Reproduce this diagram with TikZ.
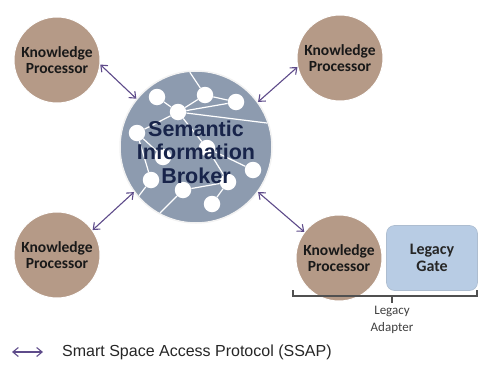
\documentclass[tikz,border=0pt]{standalone}
\usepackage{fontspec}
\newfontfamily\carl{Carlito}
\newfontfamily\arial{Liberation Sans}
\usetikzlibrary{arrows.meta}
\definecolor{kpfill}{HTML}{B59A87}
\definecolor{sibfill}{HTML}{8D9BAF}
\definecolor{sibtext}{HTML}{18244A}
\definecolor{gatefill}{HTML}{B8CCE4}
\definecolor{arrowc}{HTML}{5E4B8A}
\definecolor{bracketc}{HTML}{505050}
\tikzset{
  kp/.style={circle, draw=white, line width=1pt, fill=kpfill, minimum size=86pt, inner sep=0pt,
    align=center, font=\carl\bfseries\fontsize{15.5}{15.5}\selectfont, text=black!90},
  sib/.style={circle, draw=white!90!gray, line width=1.5pt, fill=sibfill, minimum size=152pt, inner sep=0pt},
  sibtxt/.style={align=center, font=\arial\bfseries\fontsize{21.5}{23.5}\selectfont, text=sibtext},
  gate/.style={rounded corners=8pt, draw=gatefill!80!gray, line width=0.6pt, fill=gatefill, minimum width=91pt, minimum height=65pt,
    align=center, font=\carl\bfseries\fontsize{16}{16.5}\selectfont, text=black!85},
  dot/.style={circle, fill=white, minimum size=16.5pt, inner sep=0pt},
  web/.style={white, line width=1.2pt},
  ssap/.style={arrowc, line width=1.1pt, {Straight Barb[length=5.5pt,width=9pt]}-{Straight Barb[length=5.5pt,width=9pt]}},
  brk/.style={bracketc, line width=1.8pt},
  lbl/.style={font=\carl\fontsize{13}{16.5}\selectfont, text=black!75, align=center},
}
\begin{document}
\begin{tikzpicture}[x=1pt,y=-1pt]
\useasboundingbox (0,0) rectangle (479,364);
% broker
\node[sib] (sib) at (196,147) {};
\begin{scope}
\clip (196,147) circle (75pt);
\node[dot] (n1) at (157,97) {};
\node[dot] (n2) at (205,95) {};
\node[dot] (n3) at (236,102) {};
\node[dot] (n4) at (178,112) {};
\node[dot] (n5) at (137,133) {};
\node[dot] (n6) at (163,157) {};
\node[dot] (n7) at (151,180) {};
\node[dot] (n8) at (183,190) {};
\node[dot] (n9) at (212,204) {};
\node[dot] (n10) at (228,182) {};
\node[dot] (n11) at (253,170) {};
\node[dot] (n12) at (207,148) {};
\coordinate (e1) at (187,68);
\coordinate (e2) at (275,124);
\coordinate (e3) at (138,197);
\coordinate (e4) at (158,215);
\draw[web] (e1) -- (n2);
\draw[web] (n1) -- (n4);
\draw[web] (n2) -- (n4);
\draw[web] (n2) -- (n3);
\draw[web] (n4) -- (n3);
\draw[web] (n4) -- (e2);
\draw[web] (n4) -- (n5);
\draw[web] (n5) -- (n7);
\draw[web] (n7) -- (e3);
\draw[web] (n8) -- (n10);
\draw[web] (n8) -- (e4);
\draw[web] (n9) -- (n10);
\draw[web] (n4) -- (n12);
\draw[web] (n12) -- (n10);
\draw[web] (n5) -- (n6);
\draw[web] (n11) -- (n12);
\end{scope}
\node[sibtxt] (sibt) at (196,152) {Semantic\\Information\\Broker};
% knowledge processors
\node[kp] (kp1) at (57,60) {Knowledge\\Processor};
\node[kp] (kp2) at (340,58) {Knowledge\\Processor};
\node[kp] (kp3) at (57,255) {Knowledge\\Processor};
\node[kp] (kp4) at (339,258) {Knowledge\\Processor};
\node[gate] (gate) at (432,258) {Legacy\\Gate};
% connectors
\draw[ssap] (kp1.-6) -- (sib.141);
\draw[ssap] (kp2.-168) -- (sib.36);
\draw[ssap] (kp3.35) -- (sib.-144);
\draw[ssap] (kp4.143) -- (sib.-36);
% bracket
\coordinate (bl) at (293,290);
\coordinate (br) at (477,290);
\coordinate (bm) at (392,296);
\draw[brk] (bl) -- (293,296) -- (477,296) -- (br);
\draw[brk] (bm) -- (392,303);
\node[lbl] (adapter) at (392,320) {Legacy\\Adapter};
% legend
\coordinate (la) at (12,352);
\coordinate (lb) at (43,352);
\draw[ssap] (la) -- (lb);
\node[anchor=west, font=\arial\fontsize{16}{17}\selectfont, text=black!85, inner sep=0pt] (legend) at (62,352) {Smart Space Access Protocol (SSAP)};
\end{tikzpicture}
\end{document}
